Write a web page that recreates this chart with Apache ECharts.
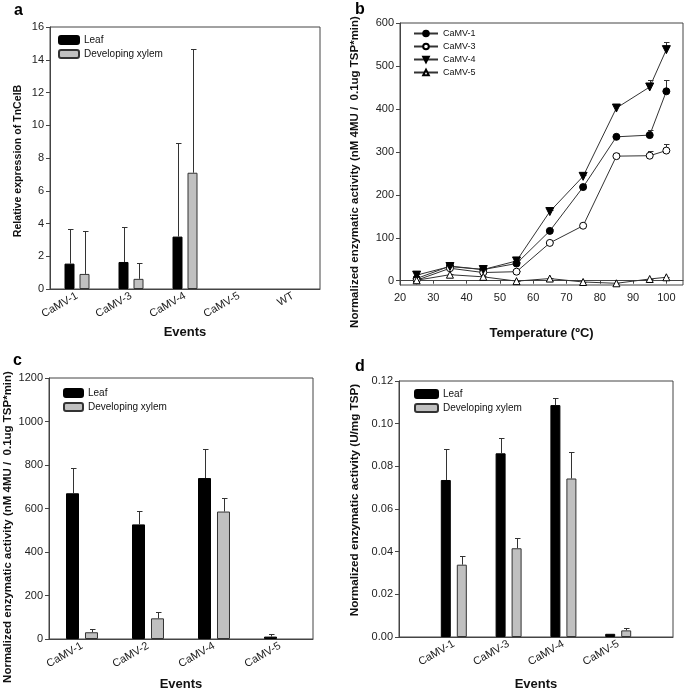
<!DOCTYPE html>
<html><head><meta charset="utf-8">
<script src="https://cdn.jsdelivr.net/npm/echarts@6/dist/echarts.min.js"></script>
<style>html,body{margin:0;padding:0;background:#fff}#c{width:685px;height:692px}</style>
</head><body><div id="c"></div>
<script>
// ---- Panel a ----
const eventsA = ['CaMV-1','CaMV-3','CaMV-4','CaMV-5','WT'];
const leafA = [1.55, 1.65, 3.2, 0, 0];
const leafSdA = [2.1, 2.15, 5.7, 0, 0];
const xylemA = [0.92, 0.62, 7.1, 0, 0];
const xylemSdA = [2.63, 0.96, 7.55, 0, 0];
const ticksA = [0,2,4,6,8,10,12,14,16];

// ---- Panel b ----
const temps = [25,35,45,55,65,75,85,95,100];
const camv1 = [5,34,26,40,116,218,335,339,441];
const camv1Sd = [2,3,3,4,4,8,5,11,27];
const camv3 = [1,29,19,21,88,128,290,291,303];
const camv3Sd = [1,2,2,2,3,3,7,10,16];
const camv4 = [13,33,26,46,161,243,402,451,538];
const camv4Sd = [2,3,2,3,3,3,6,17,17];
const camv5 = [1,14,9,-1,5,-3,-6,4,8];
const camv5Sd = [1,1,1,1,1,1,1,1,1];
const ticksBx = [20,30,40,50,60,70,80,90,100];
const ticksBy = [0,100,200,300,400,500,600];

// ---- Panel c ----
const eventsC = ['CaMV-1','CaMV-2','CaMV-4','CaMV-5'];
const leafC = [670, 527, 740, 11];
const leafSdC = [114, 62, 132, 10];
const xylemC = [31, 95, 586, 0];
const xylemSdC = [15, 27, 64, 0];
const ticksC = [0,200,400,600,800,1000,1200];

// ---- Panel d ----
const eventsD = ['', 'CaMV-1','CaMV-3','CaMV-4','CaMV-5', ''];
const leafD = [null, 0.0736, 0.0861, 0.1087, 0.0015, null];
const leafSdD = [0, 0.0143, 0.0072, 0.0031, 0, 0];
const xylemD = [null, 0.0339, 0.0416, 0.0743, 0.0031, null];
const xylemSdD = [0, 0.0039, 0.0050, 0.0124, 0.0012, 0];
const ticksD = [0,0.02,0.04,0.06,0.08,0.10,0.12];

const FONT = 'Liberation Sans, Arial, sans-serif';
const TXT = '#222';
const FRAME = '#444';

const chart = echarts.init(document.getElementById('c'), null, {renderer:'canvas'});

function barData(vals){ return vals.map(v => (v == null || v === 0) ? '-' : v); }
function errData(vals, sds){
  const out = [];
  vals.forEach((v,i)=>{ if (v != null && sds[i] > 0) out.push([i, v, v + sds[i]]); });
  return out;
}
function errDataXY(xs, vals, sds){
  return vals.map((v,i)=>[xs[i], v, v + sds[i]]);
}
function barErr(xi, yi, offset, data){
  return {
    type:'custom', xAxisIndex:xi, yAxisIndex:yi, z:5, silent:true,
    dimensions:['x','v','t'],
    encode:{x:0, y:[1,2]},
    data:data,
    renderItem:function(params, api){
      const v = api.value(1), t = api.value(2);
      if (!(t > v)) return null;
      const p1 = api.coord([api.value(0), v]);
      const p2 = api.coord([api.value(0), t]);
      const x = Math.round(p1[0] + offset) + 0.5;
      const y2 = Math.round(p2[1]) + 0.5;
      return {type:'group', children:[
        {type:'line', shape:{x1:x, y1:p1[1], x2:x, y2:y2}, style:{stroke:'#333', lineWidth:1}},
        {type:'line', shape:{x1:x-2.5, y1:y2, x2:x+3, y2:y2}, style:{stroke:'#333', lineWidth:1}}
      ]};
    }
  };
}
function valueAxisY(gi, min, max, ticks, fmt){
  return {
    type:'value', gridIndex:gi, min:min, max:max,
    axisLine:{show:true, lineStyle:{color:FRAME}},
    axisTick:{show:true, inside:false, length:4, customValues:ticks, lineStyle:{color:FRAME}},
    axisLabel:{customValues:ticks, color:TXT, fontFamily:FONT, fontSize:11, margin:6, formatter:fmt},
    splitLine:{show:false}
  };
}
function catAxisX(gi, cats, gapB, boundary){
  return {
    type:'category', gridIndex:gi, data:cats, boundaryGap:boundary,
    axisLine:{show:true, lineStyle:{color:FRAME}},
    axisTick:{show:false},
    axisLabel:{rotate:30, color:TXT, fontFamily:FONT, fontSize:11, margin:6, interval:0},
    name:'Events', nameLocation:'middle', nameGap:gapB,
    nameTextStyle:{fontFamily:FONT, fontWeight:'bold', fontSize:13, color:'#111'}
  };
}
const leafStyle = {color:'#000', borderColor:'#000', borderWidth:1};
const xylStyle = {color:'#c0c0c0', borderColor:'#333', borderWidth:1};

function legendBar(left, top, w){
  return {
    left:left, top:top, orient:'vertical', itemWidth:w, itemHeight:8, itemGap:4,
    data:['Leaf','Developing xylem'], selectedMode:false,
    textStyle:{fontFamily:FONT, fontSize:10, color:'#111'},
    padding:0
  };
}
function yTitle(text, x, y, size){
  return {type:'text', x:x, y:y, rotation:Math.PI/2, silent:true,
    style:{text:text, fontFamily:FONT, fontWeight:'bold', fontSize:size, fill:'#111', align:'center', verticalAlign:'middle'}};
}

const plainFmt = function(v){ return String(v); };

const option = {
  animation:false,
  backgroundColor:'#fff',
  grid:[
    {left:50, top:27, width:270, height:262, show:true, borderColor:FRAME, borderWidth:1},
    {left:400, top:23, width:283, height:262, show:true, borderColor:FRAME, borderWidth:1},
    {left:49, top:378, width:264, height:262, show:true, borderColor:FRAME, borderWidth:1},
    {left:399, top:381, width:274, height:259, show:true, borderColor:FRAME, borderWidth:1}
  ],
  title:[
    {text:'a', left:9, top:-2, textStyle:{fontFamily:FONT, fontWeight:'bold', fontSize:16, color:'#000'}},
    {text:'b', left:350, top:-3, textStyle:{fontFamily:FONT, fontWeight:'bold', fontSize:16, color:'#000'}},
    {text:'c', left:8, top:348, textStyle:{fontFamily:FONT, fontWeight:'bold', fontSize:16, color:'#000'}},
    {text:'d', left:350, top:354, textStyle:{fontFamily:FONT, fontWeight:'bold', fontSize:16, color:'#000'}}
  ],
  graphic:[
    yTitle('Relative expression of TnCelB', 18, 161, 10.6),
    yTitle('Normalized enzymatic activity (nM 4MU /  0.1ug TSP*min)', 355, 172, 11.5),
    yTitle('Normalized enzymatic activity (nM 4MU /  0.1ug TSP*min)', 8, 527, 11.5),
    yTitle('Normalized enzymatic activity (U/mg TSP)', 355, 500, 11.7)
  ],
  legend:[
    legendBar(58, 35, 20),
    {
      left:413, top:29, orient:'vertical', itemWidth:24, itemHeight:7, itemGap:4,
      data:['CaMV-1','CaMV-3','CaMV-4','CaMV-5'], selectedMode:false, padding:0,
      textStyle:{fontFamily:FONT, fontSize:9, color:'#111'}
    },
    legendBar(63, 388, 19),
    legendBar(414, 389, 23)
  ],
  xAxis:[
    catAxisX(0, eventsA, 37, true),
    {
      type:'value', gridIndex:1, min:20, max:105,
      axisLine:{show:true, lineStyle:{color:FRAME}},
      axisTick:{show:true, length:3, customValues:ticksBx, lineStyle:{color:FRAME}},
      axisLabel:{customValues:ticksBx, color:TXT, fontFamily:FONT, fontSize:11, margin:7},
      splitLine:{show:false},
      name:'Temperature (ºC)', nameLocation:'middle', nameGap:42,
      nameTextStyle:{fontFamily:FONT, fontWeight:'bold', fontSize:13, color:'#111'}
    },
    catAxisX(2, eventsC, 39, true),
    catAxisX(3, eventsD, 41, false)
  ],
  yAxis:[
    valueAxisY(0, 0, 16, ticksA, plainFmt),
    valueAxisY(1, -10, 600, ticksBy, plainFmt),
    valueAxisY(2, 0, 1200, ticksC, plainFmt),
    valueAxisY(3, 0, 0.12, ticksD, function(v){return v.toFixed(2);})
  ],
  series:[
    // a
    {name:'Leaf', type:'bar', xAxisIndex:0, yAxisIndex:0, data:barData(leafA), barWidth:10, barGap:'50%', itemStyle:leafStyle},
    {name:'Developing xylem', type:'bar', xAxisIndex:0, yAxisIndex:0, data:barData(xylemA), barWidth:10, barGap:'50%', itemStyle:xylStyle},
    barErr(0,0,-7.5, errData(leafA, leafSdA)),
    barErr(0,0,7.5, errData(xylemA, xylemSdA)),
    // b
    {name:'CaMV-1', type:'line', xAxisIndex:1, yAxisIndex:1, data:temps.map((t,i)=>[t,camv1[i]]),
      symbol:'circle', symbolSize:7, lineStyle:{color:'#333', width:1}, itemStyle:{color:'#000', borderColor:'#000', borderWidth:1}, z:4},
    {name:'CaMV-3', type:'line', xAxisIndex:1, yAxisIndex:1, data:temps.map((t,i)=>[t,camv3[i]]),
      symbol:'circle', symbolSize:7, lineStyle:{color:'#333', width:1}, itemStyle:{color:'#fff', borderColor:'#000', borderWidth:1}, z:4},
    {name:'CaMV-4', type:'line', xAxisIndex:1, yAxisIndex:1, data:temps.map((t,i)=>[t,camv4[i]]),
      symbol:'triangle', symbolRotate:180, symbolSize:8, lineStyle:{color:'#333', width:1}, itemStyle:{color:'#000', borderColor:'#000', borderWidth:1}, z:4},
    {name:'CaMV-5', type:'line', xAxisIndex:1, yAxisIndex:1, data:temps.map((t,i)=>[t,camv5[i]]),
      symbol:'triangle', symbolSize:7, lineStyle:{color:'#333', width:1}, itemStyle:{color:'#fff', borderColor:'#000', borderWidth:1}, z:4},
    Object.assign(barErr(1,1,0, errDataXY(temps, camv1, camv1Sd)), {z:3}),
    Object.assign(barErr(1,1,0, errDataXY(temps, camv3, camv3Sd)), {z:3}),
    Object.assign(barErr(1,1,0, errDataXY(temps, camv4, camv4Sd)), {z:3}),
    Object.assign(barErr(1,1,0, errDataXY(temps, camv5, camv5Sd)), {z:3}),
    // c
    {name:'Leaf', type:'bar', xAxisIndex:2, yAxisIndex:2, data:barData(leafC), barWidth:13, barGap:'46%', itemStyle:leafStyle},
    {name:'Developing xylem', type:'bar', xAxisIndex:2, yAxisIndex:2, data:barData(xylemC), barWidth:13, barGap:'46%', itemStyle:xylStyle},
    barErr(2,2,-9.5, errData(leafC, leafSdC)),
    barErr(2,2,9.5, errData(xylemC, xylemSdC)),
    // d
    {name:'Leaf', type:'bar', xAxisIndex:3, yAxisIndex:3, data:barData(leafD), barWidth:10, barGap:'60%', itemStyle:leafStyle},
    {name:'Developing xylem', type:'bar', xAxisIndex:3, yAxisIndex:3, data:barData(xylemD), barWidth:10, barGap:'60%', itemStyle:xylStyle},
    barErr(3,3,-8, errData(leafD, leafSdD)),
    barErr(3,3,8, errData(xylemD, xylemSdD))
  ]
};
chart.setOption(option);
</script>
</body></html>
